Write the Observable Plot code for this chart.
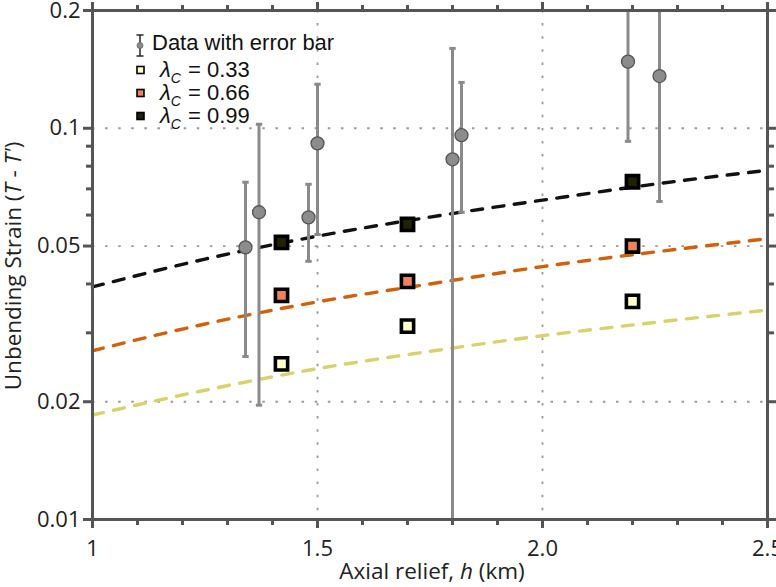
<!DOCTYPE html>
<html>
<head>
<meta charset="utf-8">
<script src="https://cdn.jsdelivr.net/npm/d3@7"></script>
<script src="https://cdn.jsdelivr.net/npm/@observablehq/plot@0.6"></script>
<style>
  html, body { margin: 0; padding: 0; background: #fff; }
  #chart { width: 776px; height: 587px; }
</style>
</head>
<body>
<div id="chart"></div>
<script>
// Observed data with error bars
const h_obs      = [1.34, 1.37, 1.48, 1.50, 1.80, 1.82, 2.19, 2.26];
const strain_obs = [0.0496, 0.0610, 0.0592, 0.0915, 0.0833, 0.0960, 0.148, 0.136];
const strain_lo  = [0.0261, 0.0196, 0.0457, 0.0535, 0.0090, 0.0610, 0.0926, 0.0650];
const strain_hi  = [0.0728, 0.1024, 0.0719, 0.1296, 0.1600, 0.1310, 0.2500, 0.2500];

// Model squares
const h_model = [1.42, 1.70, 2.20];
const lam033 = [0.0250, 0.0312, 0.0361];
const lam066 = [0.0374, 0.0406, 0.0500];
const lam099 = [0.0511, 0.0568, 0.0730];

// Dashed trend curves
const h_fit  = [1, 1.25, 1.5, 1.75, 2, 2.25, 2.5];
const fit033 = [0.0185, 0.0214, 0.0243, 0.0269, 0.0295, 0.0319, 0.0343];
const fit066 = [0.0270, 0.0316, 0.0360, 0.0400, 0.0443, 0.0483, 0.0522];
const fit099 = [0.0393, 0.0463, 0.0530, 0.0593, 0.0655, 0.0720, 0.0781];

// Axis ticks
const xMajor = [1, 1.5, 2.0, 2.5];
const xMajorLabels = ["1", "1.5", "2.0", "2.5"];
const xMinor = [1.1, 1.2, 1.3, 1.4, 1.6, 1.7, 1.8, 1.9, 2.1, 2.2, 2.3, 2.4];
const yMajor = [0.01, 0.02, 0.05, 0.1, 0.2];
const yMajorLabels = ["0.01", "0.02", "0.05", "0.1", "0.2"];
const yMinor = [0.03, 0.04, 0.06, 0.07, 0.08, 0.09];
const xGrid = [1.5, 2.0];
const yGrid = [0.02, 0.05, 0.1];

const lamLabels = ["0.33", "0.66", "0.99"];
const lamFill = ["#ffffcc", "#ef8060", "#222200"];
const lamLine = ["#d9d26b", "#d4600a", "#111111"];

const obs = h_obs.map((h, i) => ({h, v: strain_obs[i], lo: strain_lo[i], hi: strain_hi[i]}));
const models = [lam033, lam066, lam099].map(arr => h_model.map((h, i) => ({h, v: arr[i]})));
const fits = [fit033, fit066, fit099].map(arr => h_fit.map((h, i) => ({h, v: arr[i]})));

const capSymbol = {
  draw(ctx, size) {
    const w = Math.sqrt(size / Math.PI);
    ctx.moveTo(-w, 0);
    ctx.lineTo(w, 0);
  }
};

const axisCol = "#555";
const gridStyle = {stroke: "#999", strokeOpacity: 1, strokeWidth: 1.8, strokeDasharray: "2.5,10.6"};

const chart = Plot.plot({
  width: 776,
  height: 587,
  marginLeft: 92,
  marginRight: 9,
  marginTop: 10,
  marginBottom: 68,
  style: {fontFamily: "'Open Sans', sans-serif", fontSize: "22px", color: "#222", background: "#fff"},
  x: {domain: [1, 2.5]},
  y: {type: "log", domain: [0.01, 0.2]},
  marks: [
    Plot.gridX(xGrid, gridStyle),
    Plot.gridY(yGrid, gridStyle),
    // trend lines
    ...fits.map((f, k) => Plot.line(f, {x: "h", y: "v", stroke: lamLine[k], strokeWidth: 3.4, strokeDasharray: "11,10.5", curve: "monotone-x"})),
    // error bars
    Plot.ruleX(obs, {x: "h", y1: "lo", y2: "hi", stroke: "#8a8a8a", strokeWidth: 3, clip: true}),
    Plot.dot(obs, {x: "h", y: "lo", symbol: capSymbol, r: 3.2, stroke: "#8a8a8a", strokeWidth: 3, fill: "none", clip: true}),
    Plot.dot(obs, {x: "h", y: "hi", symbol: capSymbol, r: 3.2, stroke: "#8a8a8a", strokeWidth: 3, fill: "none", clip: true}),
    Plot.dot(obs, {x: "h", y: "v", r: 6.5, fill: "#8c8c8c", stroke: "#555", strokeWidth: 1.3}),
    // model squares
    ...models.map((m, k) => Plot.dot(m, {x: "h", y: "v", symbol: "square", r: 6.9, fill: lamFill[k], stroke: "#000", strokeWidth: 3.6})),
    // frame
    Plot.frame({stroke: axisCol, strokeWidth: 3}),
    // axes
    Plot.axisX(xMajor, {anchor: "bottom", tickSize: 9, tickPadding: 12, stroke: axisCol, strokeWidth: 3,
      tickFormat: d => xMajorLabels[xMajor.indexOf(d)], fontSize: 22, fill: "#222", label: null}),
    Plot.axisX(xMinor, {anchor: "bottom", tickSize: 6, stroke: axisCol, strokeWidth: 3, tickFormat: () => "", label: null}),
    Plot.axisX(xMajor, {anchor: "top", tickSize: 9, stroke: axisCol, strokeWidth: 3, tickFormat: () => "", label: null}),
    Plot.axisX(xMinor, {anchor: "top", tickSize: 6, stroke: axisCol, strokeWidth: 3, tickFormat: () => "", label: null}),
    Plot.axisY(yMajor, {anchor: "left", tickSize: 9, tickPadding: 3, stroke: axisCol, strokeWidth: 3,
      tickFormat: d => yMajorLabels[yMajor.indexOf(d)], fontSize: 22, fill: "#222", label: null}),
    Plot.axisY(yMinor, {anchor: "left", tickSize: 6, stroke: axisCol, strokeWidth: 3, tickFormat: () => "", label: null}),
    Plot.axisY(yMajor, {anchor: "right", tickSize: 9, stroke: axisCol, strokeWidth: 3, tickFormat: () => "", label: null}),
    Plot.axisY(yMinor, {anchor: "right", tickSize: 6, stroke: axisCol, strokeWidth: 3, tickFormat: () => "", label: null})
  ]
});

document.getElementById("chart").appendChild(chart);

const svg = d3.select(chart);

// Axis titles
const xt = svg.append("text")
  .attr("x", 432).attr("y", 579)
  .attr("text-anchor", "middle")
  .attr("font-family", "'Open Sans', sans-serif")
  .attr("font-size", 22.5).attr("fill", "#222");
xt.append("tspan").text("Axial relief, ");
xt.append("tspan").attr("font-style", "italic").text("h");
xt.append("tspan").text(" (km)");

const yt = svg.append("text")
  .attr("transform", "translate(21,266) rotate(-90)")
  .attr("text-anchor", "middle")
  .attr("font-family", "'Open Sans', sans-serif")
  .attr("font-size", 22.5).attr("fill", "#222");
yt.append("tspan").text("Unbending Strain (");
yt.append("tspan").attr("font-style", "italic").text("T");
yt.append("tspan").text(" - ");
yt.append("tspan").attr("font-style", "italic").text("T'");
yt.append("tspan").text(")");

// Legend
const lg = svg.append("g")
  .attr("font-family", "'Liberation Sans', Arial, sans-serif")
  .attr("text-anchor", "start")
  .attr("fill", "#111");
// error bar icon
lg.append("line").attr("x1", 140).attr("x2", 140).attr("y1", 35).attr("y2", 56).attr("stroke", "#333").attr("stroke-width", 1.6);
lg.append("line").attr("x1", 136.5).attr("x2", 143.5).attr("y1", 35).attr("y2", 35).attr("stroke", "#333").attr("stroke-width", 1.6);
lg.append("line").attr("x1", 136.5).attr("x2", 143.5).attr("y1", 56).attr("y2", 56).attr("stroke", "#333").attr("stroke-width", 1.6);
lg.append("circle").attr("cx", 140).attr("cy", 45.5).attr("r", 3).attr("fill", "#8c8c8c").attr("stroke", "#666").attr("stroke-width", 0.8);
lg.append("text").attr("x", 152).attr("y", 50).attr("font-size", 22).attr("text-anchor", "start").text("Data with error bar");

const rowY = [70, 93, 116];
lamLabels.forEach((lab, k) => {
  lg.append("rect").attr("x", 137).attr("y", rowY[k] - 3.5).attr("width", 7).attr("height", 7)
    .attr("fill", lamFill[k]).attr("stroke", "#000").attr("stroke-width", 1.6);
  const t = lg.append("text").attr("x", 160).attr("y", rowY[k] + 7).attr("font-size", 22).attr("text-anchor", "start");
  t.append("tspan").attr("font-style", "italic").text("λ");
  t.append("tspan").attr("font-style", "italic").attr("font-size", 14).attr("dy", 6).text("C");
  t.append("tspan").attr("dy", -6).attr("x", 188).text("= " + lab);
});
</script>
</body>
</html>
